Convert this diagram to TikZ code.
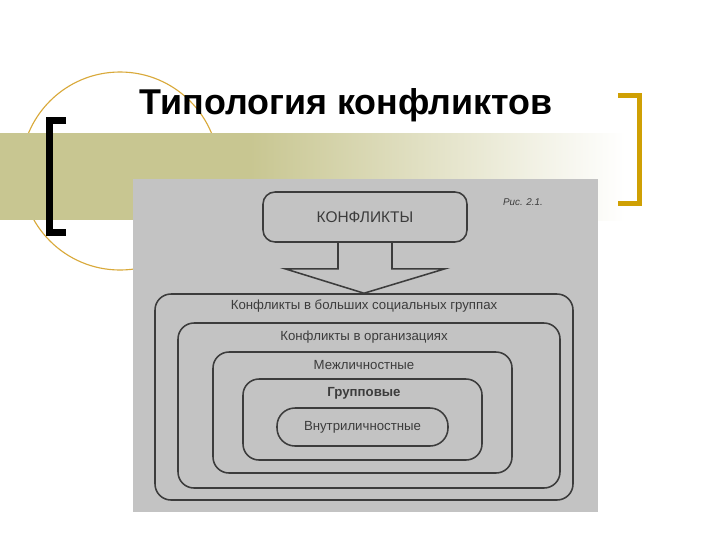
\documentclass[tikz,border=0pt]{standalone}
\usepackage{fontspec}
\setmainfont{Liberation Sans}
\usetikzlibrary{calc}
\definecolor{barolive}{HTML}{C8C691}
\definecolor{ringgold}{HTML}{D9A93A}
\definecolor{bracketgold}{HTML}{CFA004}
\definecolor{scangray}{HTML}{C3C3C3}
\definecolor{inkgray}{HTML}{3C3C3C}
\newlength\pxl
\setlength\pxl{0.025cm}
\tikzset{
  frame/.style={draw=inkgray, line width=1.1pt, rounded corners=16\pxl, inner sep=0pt},
  lvltext/.style={inkgray, font=\fontsize{9.4}{9.4}\selectfont},
  link/.style={draw=inkgray, line width=1.1pt},
}

\begin{document}
\begin{tikzpicture}[x=\pxl, y=-\pxl]
  \useasboundingbox (0,0) rectangle (720,540);
  \fill[white] (0,0) rectangle (720,540);

  \draw[ringgold, line width=0.8pt] (120,171) circle (99);
  \fill[barolive] (0,133) rectangle (250,220);
  \shade[left color=barolive, right color=white] (250,133) rectangle (625,220);

  \node[anchor=base west, font=\fontsize{25.5}{25.5}\selectfont\bfseries] (title) at (135,114) {Типология конфликтов};

  \draw[black, line width=7\pxl] (66,120) -- (49,120) -- (49,232) -- (66,232);
  \draw[bracketgold, line width=5\pxl] (618,95) -- (639,95) -- (639,203) -- (618,203);

  \fill[scangray] (133,179) rectangle (598,512);

  \node[frame, rounded corners=12\pxl, minimum width=204\pxl, minimum height=50\pxl, inkgray, font=\fontsize{11}{11}\selectfont] (konf) at (365,217) {КОНФЛИКТЫ};
  \node[inkgray, font=\fontsize{7}{7}\selectfont\itshape] (fig) at (523,202) {Рис. 2.1.};

  \node[frame, minimum width=418\pxl, minimum height=206\pxl] (big) at (364,397) {};
  \node[frame, minimum width=382\pxl, minimum height=165\pxl] (org) at (369,405.5) {};
  \node[frame, minimum width=299\pxl, minimum height=121\pxl] (inter) at (362.5,412.5) {};
  \node[frame, minimum width=239\pxl, minimum height=81\pxl] (group) at (362.5,419.5) {};
  \node[frame, rounded corners=18\pxl, minimum width=171\pxl, minimum height=38\pxl] (intra) at (362.5,427) {};

  \node[lvltext] (bigtxt) at (364,306) {Конфликты в больших социальных группах};
  \node[lvltext] (orgtxt) at (364,337) {Конфликты в организациях};
  \node[lvltext] (intertxt) at (364,365) {Межличностные};
  \node[lvltext, font=\fontsize{9.4}{9.4}\selectfont\bfseries] (grouptxt) at (364,393) {Групповые};
  \node[lvltext] (intratxt) at (intra) {Внутриличностные};

  \draw[link] ($(konf.south)+(-27,0)$) -- ++(0,26) -- ++(-53,0) -- (big.north)
    -- ($(konf.south)+(80,26)$) -- ++(-53,0) -- ++(0,-26);
\end{tikzpicture}
\end{document}
